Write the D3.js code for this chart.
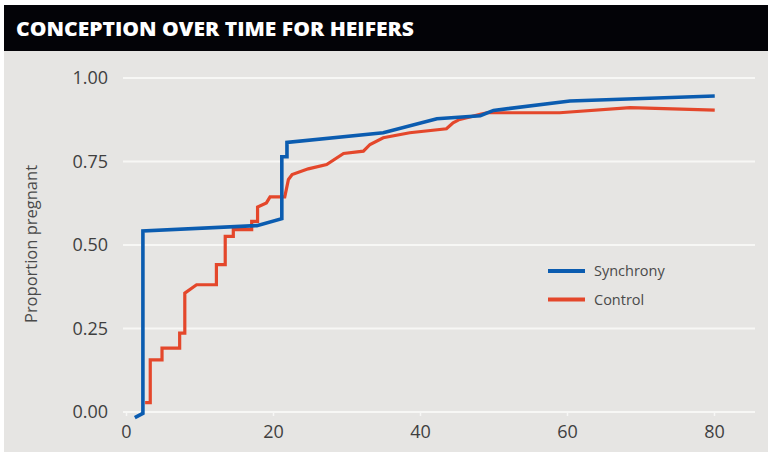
<!DOCTYPE html>
<html>
<head>
<meta charset="utf-8">
<script src="https://cdn.jsdelivr.net/npm/d3@7"></script>
<style>
    body { margin: 0; background: #ffffff; }
    svg { display: block; }
</style>
</head>
<body>
<svg id="chart"></svg>
<script>
const title = 'CONCEPTION OVER TIME FOR HEIFERS'
const yLabel = 'Proportion pregnant'
const xTicks = [0, 20, 40, 60, 80]
const yTicks = [0, 0.25, 0.5, 0.75, 1]

// step corners of each curve
const syncDays = [1.2, 2.3, 2.3, 17.8, 21.2, 21.2, 21.9, 21.9, 35, 42.3, 48.2, 50, 60.4, 80.1]
const syncProp = [-0.017, -0.004, 0.542, 0.558, 0.579, 0.764, 0.764, 0.807, 0.836, 0.878, 0.887, 0.903, 0.931, 0.946]

const ctrlDays = [2.6, 3.3, 3.3, 4.9, 4.9, 7.3, 7.3, 8.0, 8.0, 9.6, 12.3, 12.3, 13.5, 13.5, 14.6, 14.6, 17.1, 17.1, 17.9, 17.9,
    19.1, 19.6, 21.6, 22.1, 22.6, 24.8, 27.3, 29.6, 32.3, 33.2, 35, 38.6, 43.6, 44.5, 45.4, 48.2, 49.1, 59, 68.6, 80.1]
const ctrlProp = [0.028, 0.028, 0.156, 0.156, 0.191, 0.191, 0.236, 0.236, 0.356, 0.381, 0.381, 0.441, 0.441, 0.526, 0.526, 0.546, 0.546, 0.571, 0.571, 0.614,
    0.626, 0.644, 0.644, 0.696, 0.711, 0.728, 0.741, 0.774, 0.781, 0.801, 0.821, 0.836, 0.848, 0.866, 0.876, 0.891, 0.896, 0.896, 0.911, 0.904]

const seriesNames = ['Synchrony', 'Control']
const seriesColors = ['#0b5cb0', '#e4472b']

const width = 768, height = 452
const font = 'Open Sans, sans-serif'

const svg = d3.select('#chart')
    .attr('width', width)
    .attr('height', height)

// panel
svg.append('rect')
    .attr('x', 4).attr('y', 5)
    .attr('width', width - 4).attr('height', height - 5)
    .attr('fill', '#e6e5e3')

svg.append('rect')
    .attr('x', 4).attr('y', 5)
    .attr('width', width - 4).attr('height', 46)
    .attr('fill', '#030307')

svg.append('text')
    .attr('x', 16)
    .attr('y', 36)
    .attr('fill', '#ffffff')
    .attr('font-family', font)
    .attr('font-weight', 800)
    .attr('font-size', 19)
    .attr('textLength', 398)
    .attr('lengthAdjust', 'spacingAndGlyphs')
    .text(title)

const x = d3.scaleLinear()
    .domain([0, 80])
    .range([126, 714])

const y = d3.scaleLinear()
    .domain([0, 1])
    .range([412, 78])

const gridLeft = 123, gridRight = 755

// gridlines
svg.append('g')
    .selectAll('line')
    .data(yTicks)
    .join('line')
    .attr('x1', gridLeft)
    .attr('x2', gridRight)
    .attr('y1', d => y(d))
    .attr('y2', d => y(d))
    .attr('stroke', '#f7f7f5')
    .attr('stroke-width', 2)

// x axis ticks
const xAxis = svg.append('g')
    .attr('transform', `translate(0,${y(0)})`)
    .call(d3.axisBottom(x).tickValues(xTicks).tickSize(4).tickPadding(9).tickFormat(d3.format('d')))

xAxis.select('.domain').remove()
xAxis.selectAll('line').attr('stroke', '#f7f7f5').attr('stroke-width', 1.5)
xAxis.selectAll('text')
    .attr('fill', '#3f3f3f')
    .attr('font-family', font)
    .attr('font-size', 18)

// y axis labels
const yAxis = svg.append('g')
    .attr('transform', `translate(${gridLeft},0)`)
    .call(d3.axisLeft(y).tickValues(yTicks).tickSize(0).tickPadding(15).tickFormat(d3.format('.2f')))

yAxis.select('.domain').remove()
yAxis.selectAll('text')
    .attr('fill', '#3f3f3f')
    .attr('font-family', font)
    .attr('font-size', 18)

svg.append('text')
    .attr('transform', `translate(37,${y(0.5) - 1}) rotate(-90)`)
    .attr('text-anchor', 'middle')
    .attr('fill', '#4a4a4a')
    .attr('font-family', font)
    .attr('font-size', 16.5)
    .text(yLabel)

// curves
const line = d3.line()
    .x(d => x(d[0]))
    .y(d => y(d[1]))

const series = [
    d3.zip(syncDays, syncProp),
    d3.zip(ctrlDays, ctrlProp),
]

// control drawn first so synchrony sits on top
svg.append('g')
    .selectAll('path')
    .data([1, 0])
    .join('path')
    .attr('d', i => line(series[i]))
    .attr('fill', 'none')
    .attr('stroke', i => seriesColors[i])
    .attr('stroke-width', i => i === 0 ? 3.6 : 3.2)
    .attr('stroke-linejoin', 'miter')

// legend
const legend = svg.append('g')
    .selectAll('g')
    .data(seriesNames)
    .join('g')
    .attr('transform', (d, i) => `translate(548,${271 + i * 28.5})`)

legend.append('line')
    .attr('x1', 0).attr('x2', 37)
    .attr('stroke', (d, i) => seriesColors[i])
    .attr('stroke-width', 4)

legend.append('text')
    .attr('x', 46)
    .attr('y', 5)
    .attr('fill', '#4a4a4a')
    .attr('font-family', font)
    .attr('font-size', 14.5)
    .text(d => d)
</script>
</body>
</html>
